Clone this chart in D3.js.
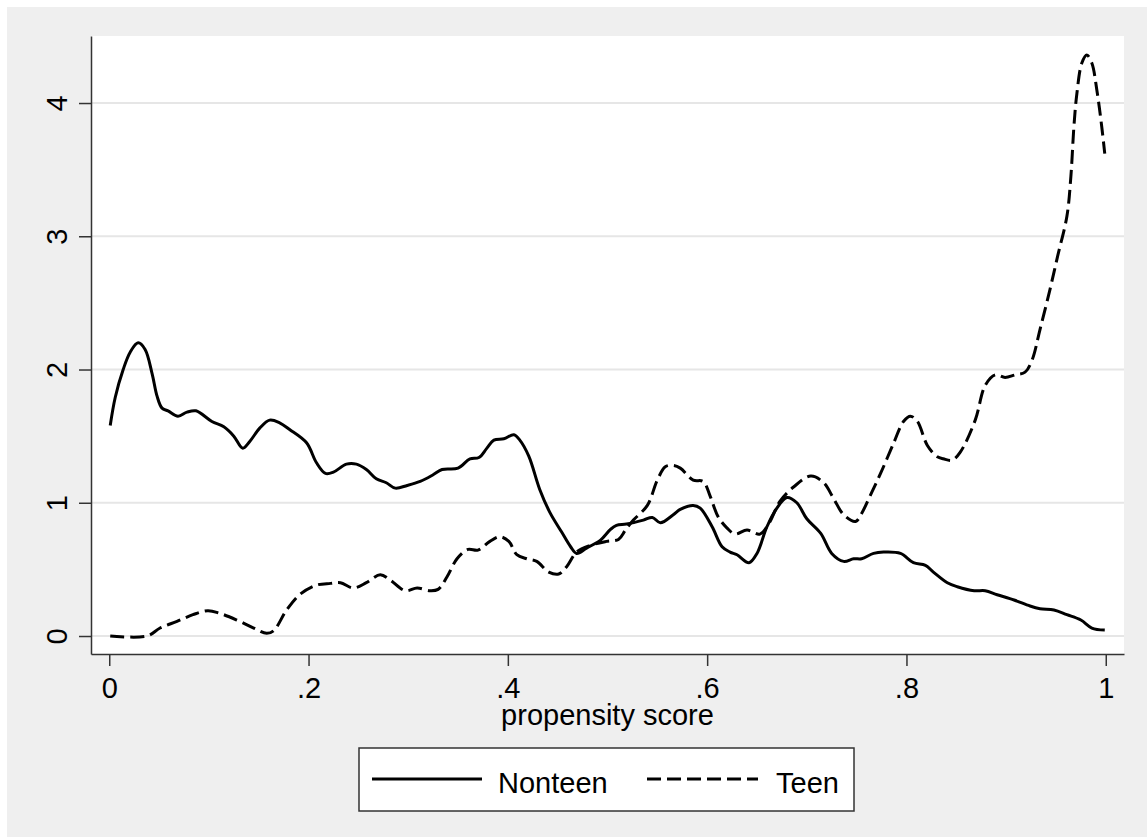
<!DOCTYPE html>
<html>
<head>
<meta charset="utf-8">
<script src="https://cdn.jsdelivr.net/npm/d3@7"></script>
<style>
  body { margin: 0; background: #fff; }
  svg { display: block; font-family: "Liberation Sans", Arial, sans-serif; }
</style>
</head>
<body>
<svg id="chart" width="1147" height="837"></svg>
<script>
// kernel density estimates: [propensity score, density]
var nonteen = [
  [0.001, 1.58], [0.006, 1.79], [0.014, 2.00], [0.021, 2.13], [0.029, 2.20], [0.036, 2.15],
  [0.043, 1.97], [0.048, 1.80], [0.053, 1.71], [0.059, 1.69], [0.069, 1.65], [0.078, 1.68],
  [0.087, 1.69], [0.103, 1.61], [0.115, 1.57], [0.125, 1.50], [0.134, 1.41], [0.141, 1.46],
  [0.151, 1.56], [0.161, 1.62], [0.171, 1.60], [0.181, 1.55], [0.198, 1.45], [0.208, 1.30],
  [0.217, 1.22], [0.225, 1.23], [0.238, 1.29], [0.248, 1.29], [0.258, 1.25], [0.268, 1.18],
  [0.278, 1.15], [0.287, 1.11], [0.299, 1.13], [0.312, 1.16], [0.325, 1.21], [0.334, 1.25],
  [0.350, 1.26], [0.362, 1.33], [0.371, 1.34], [0.379, 1.41], [0.386, 1.47], [0.396, 1.48],
  [0.406, 1.51], [0.412, 1.47], [0.421, 1.35], [0.432, 1.10], [0.442, 0.93], [0.454, 0.78],
  [0.463, 0.67], [0.469, 0.62], [0.479, 0.66], [0.493, 0.72], [0.503, 0.80], [0.509, 0.83],
  [0.519, 0.84], [0.536, 0.87], [0.545, 0.89], [0.553, 0.85], [0.566, 0.91], [0.573, 0.95],
  [0.586, 0.98], [0.593, 0.96], [0.605, 0.82], [0.615, 0.67], [0.623, 0.63], [0.630, 0.61],
  [0.642, 0.55], [0.650, 0.62], [0.660, 0.82], [0.670, 0.96], [0.680, 1.04], [0.690, 1.00],
  [0.700, 0.88], [0.714, 0.77], [0.725, 0.62], [0.737, 0.56], [0.747, 0.58], [0.755, 0.58],
  [0.767, 0.62], [0.777, 0.63], [0.794, 0.62], [0.807, 0.55], [0.819, 0.53], [0.827, 0.48],
  [0.841, 0.40], [0.851, 0.37], [0.868, 0.34], [0.879, 0.34], [0.891, 0.31], [0.908, 0.27],
  [0.924, 0.225], [0.934, 0.205], [0.948, 0.195], [0.961, 0.16], [0.975, 0.12], [0.986, 0.06],
  [0.999, 0.045]
];

var teen = [
  [0.001, 0.00], [0.038, 0.00], [0.051, 0.06], [0.068, 0.11], [0.084, 0.16], [0.099, 0.19],
  [0.111, 0.17], [0.128, 0.12], [0.145, 0.06], [0.158, 0.02], [0.165, 0.04], [0.178, 0.195],
  [0.191, 0.31], [0.207, 0.38], [0.222, 0.395], [0.232, 0.40], [0.245, 0.36], [0.258, 0.40],
  [0.272, 0.46], [0.282, 0.42], [0.297, 0.34], [0.309, 0.36], [0.322, 0.34], [0.330, 0.35],
  [0.339, 0.445], [0.349, 0.58], [0.360, 0.65], [0.370, 0.645], [0.382, 0.71], [0.392, 0.745],
  [0.401, 0.71], [0.409, 0.61], [0.419, 0.58], [0.429, 0.56], [0.441, 0.48], [0.451, 0.465],
  [0.459, 0.52], [0.469, 0.63], [0.483, 0.68], [0.499, 0.71], [0.511, 0.725], [0.518, 0.795],
  [0.526, 0.87], [0.540, 0.98], [0.550, 1.17], [0.558, 1.27], [0.566, 1.28], [0.573, 1.26],
  [0.586, 1.17], [0.596, 1.16], [0.603, 1.05], [0.611, 0.895], [0.620, 0.81], [0.628, 0.765],
  [0.640, 0.795], [0.653, 0.765], [0.662, 0.845], [0.673, 1.01], [0.687, 1.12], [0.704, 1.20],
  [0.717, 1.15], [0.727, 1.03], [0.737, 0.91], [0.749, 0.86], [0.755, 0.92], [0.764, 1.06],
  [0.774, 1.22], [0.787, 1.445], [0.797, 1.61], [0.804, 1.65], [0.811, 1.61], [0.821, 1.43],
  [0.831, 1.345], [0.837, 1.33], [0.846, 1.32], [0.854, 1.38], [0.869, 1.62], [0.879, 1.88],
  [0.889, 1.96], [0.899, 1.94], [0.909, 1.96], [0.919, 1.98], [0.926, 2.07], [0.934, 2.30],
  [0.944, 2.60], [0.952, 2.86], [0.961, 3.15], [0.965, 3.45], [0.968, 3.82], [0.971, 4.07],
  [0.976, 4.30], [0.981, 4.36], [0.986, 4.30], [0.991, 4.10], [0.996, 3.82], [0.999, 3.62]
];

var xTicks = [0, 0.2, 0.4, 0.6, 0.8, 1];
var xTickLabels = ['0', '.2', '.4', '.6', '.8', '1'];
var yTicks = [0, 1, 2, 3, 4];
var seriesNames = ['Nonteen', 'Teen'];
var seriesDash = [null, '14,6'];

var svg = d3.select('#chart');
var fontSize = '29px';

// plot region, in page pixels
var plot = { left: 91, right: 1124, top: 36, bottom: 654 };

var x = d3.scaleLinear()
  .domain([-0.0183, 1.0183])
  .range([plot.left, plot.right]);

var y = d3.scaleLinear()
  .domain([-0.135, 4.503])
  .range([plot.bottom, plot.top]);

// graph background
svg.append('rect')
  .attr('x', 7).attr('y', 7)
  .attr('width', 1140).attr('height', 830)
  .attr('fill', '#efefef');

svg.append('rect')
  .attr('x', plot.left).attr('y', plot.top)
  .attr('width', plot.right - plot.left)
  .attr('height', plot.bottom - plot.top)
  .attr('fill', '#fff');

// gridlines
svg.append('g').selectAll('line')
  .data(yTicks)
  .enter().append('line')
  .attr('x1', plot.left).attr('x2', plot.right)
  .attr('y1', function (d) { return y(d); })
  .attr('y2', function (d) { return y(d); })
  .attr('stroke', '#e6e6e6')
  .attr('stroke-width', 2);

// axes
var xAxis = d3.axisBottom(x)
  .tickValues(xTicks)
  .tickFormat(function (d, i) { return xTickLabels[i]; })
  .tickSize(12)
  .tickSizeOuter(0);

var yAxis = d3.axisLeft(y)
  .tickValues(yTicks)
  .tickFormat(d3.format('d'))
  .tickSize(12)
  .tickSizeOuter(0);

var gx = svg.append('g')
  .attr('transform', 'translate(0,' + plot.bottom + ')')
  .call(xAxis);

var gy = svg.append('g')
  .attr('transform', 'translate(' + plot.left + ',0)')
  .call(yAxis);

[gx, gy].forEach(function (g) {
  g.select('.domain').attr('stroke', '#333').attr('stroke-width', 1.5);
  g.selectAll('.tick line').attr('stroke', '#333').attr('stroke-width', 1.5);
  g.selectAll('.tick text')
    .attr('fill', '#000')
    .style('font-size', fontSize)
    .style('font-family', '"Liberation Sans", Arial, sans-serif');
});

gx.selectAll('.tick text').attr('y', 44).attr('dy', null);

// rotated y labels, Stata style
gy.selectAll('.tick text')
  .attr('x', null).attr('dy', null)
  .attr('text-anchor', 'middle')
  .attr('transform', 'translate(-24,0) rotate(-90)')
  .attr('y', 0);

// axis title
svg.append('text')
  .attr('x', (plot.left + plot.right) / 2)
  .attr('y', 725)
  .attr('text-anchor', 'middle')
  .style('font-size', fontSize)
  .text('propensity score');

// density lines
var line = d3.line()
  .x(function (d) { return x(d[0]); })
  .y(function (d) { return y(d[1]); })
  .curve(d3.curveCatmullRom.alpha(0.5));

[nonteen, teen].forEach(function (data, i) {
  svg.append('path')
    .datum(data)
    .attr('d', line)
    .attr('fill', 'none')
    .attr('stroke', '#000')
    .attr('stroke-width', 3)
    .attr('stroke-linejoin', 'round')
    .attr('stroke-dasharray', seriesDash[i]);
});

// legend
var legend = svg.append('g');

legend.append('rect')
  .attr('x', 359).attr('y', 748)
  .attr('width', 495).attr('height', 63)
  .attr('fill', '#fff')
  .attr('stroke', '#333')
  .attr('stroke-width', 1.5);

var legendItems = [
  { x1: 372, x2: 482, tx: 498 },
  { x1: 647, x2: 758, tx: 776 }
];

legendItems.forEach(function (it, i) {
  legend.append('line')
    .attr('x1', it.x1).attr('x2', it.x2)
    .attr('y1', 779).attr('y2', 779)
    .attr('stroke', '#000')
    .attr('stroke-width', 3)
    .attr('stroke-dasharray', seriesDash[i]);
  legend.append('text')
    .attr('x', it.tx).attr('y', 793)
    .style('font-size', fontSize)
    .text(seriesNames[i]);
});
</script>
</body>
</html>
